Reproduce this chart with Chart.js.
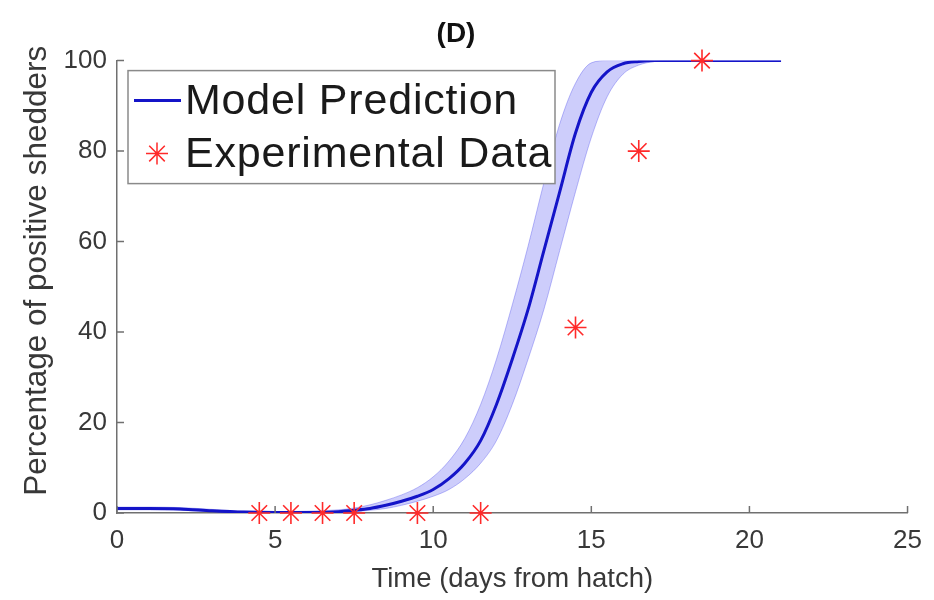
<!DOCTYPE html>
<html>
<head>
<meta charset="utf-8">
<title>(D)</title>
<script src="https://cdn.jsdelivr.net/npm/chart.js@4.4.1/dist/chart.umd.min.js"></script>
<style>
  html, body { margin: 0; padding: 0; background: #fff; }
  #wrap { width: 934px; height: 600px; }
</style>
</head>
<body>
<div id="wrap"><canvas id="shedChart" width="934" height="600"></canvas></div>
<script>
// time grid (days from hatch) for the model curves
const modelTime = [0, 1, 2, 3, 4, 5, 6, 7, 7.5, 8, 8.5, 9, 9.5, 10, 10.5, 11, 11.5, 12, 12.5, 13, 13.5, 14, 14.5, 15, 15.5, 16, 16.5, 17, 17.5, 18, 19, 20, 21];
// model prediction (%) and its envelope
const modelMean  = [1.0, 1.0, 0.9, 0.5, 0.2, 0.1, 0.1, 0.3, 0.6, 1.0, 1.7, 2.6, 3.7, 5.2, 7.6, 11, 16, 24, 34, 45, 58, 71, 84, 93, 97.5, 99.3, 99.8, 100, 100, 100, 100, 100, 100];
const modelUpper = [1.3, 1.3, 1.2, 0.8, 0.4, 0.3, 0.4, 0.7, 1.1, 1.8, 2.8, 4.0, 5.6, 8.0, 11.5, 16.5, 24, 34, 46, 59, 73, 86, 95, 99.5, 100, 100, 100, 100, 100, 100, 100, 100, 100];
const modelLower = [0.7, 0.7, 0.6, 0.3, 0.05, 0, 0, 0.1, 0.3, 0.6, 1.0, 1.7, 2.6, 3.7, 5.2, 7.6, 11, 16, 24, 34, 45, 58, 71, 83, 92, 97, 99, 99.8, 100, 100, 100, 100, 100];

// experimental observations
const expTime = [4.5, 5.5, 6.5, 7.5, 9.5, 11.5, 14.5, 16.5, 18.5];
const expPct  = [0, 0, 0, 0, 0, 0, 41, 80, 100];

const xTicks = [0, 5, 10, 15, 20, 25];
const yTicks = [0, 20, 40, 60, 80, 100];

const seriesNames = ['Model Prediction', 'Experimental Data'];
const yAxisTitle = 'Percentage of positive shedders';

const FONT = '"Liberation Sans", Arial, Helvetica, sans-serif';
const AXIS_COLOR = '#707070';
const TEXT_COLOR = '#383838';
const LINE_BLUE = '#1414c8';
const STAR_RED = '#ff2a2a';

function toXY(xs, ys) {
    return xs.map((x, i) => ({ x: x, y: ys[i] }));
}

// MATLAB-style inward tick marks
const inwardTicks = {
    id: 'inwardTicks',
    afterDraw(chart) {
        const ctx = chart.ctx;
        const a = chart.chartArea;
        const xs = chart.scales.x;
        const ys = chart.scales.y;
        ctx.save();
        ctx.strokeStyle = AXIS_COLOR;
        ctx.lineWidth = 1.5;
        ctx.beginPath();
        xTicks.forEach(v => {
            const px = xs.getPixelForValue(v);
            ctx.moveTo(px, a.bottom);
            ctx.lineTo(px, a.bottom - 7);
        });
        yTicks.forEach(v => {
            const py = ys.getPixelForValue(v);
            ctx.moveTo(a.left, py);
            ctx.lineTo(a.left + 7, py);
        });
        ctx.stroke();
        ctx.restore();
    }
};

// rotated y label, set a little above the axis midpoint
const yLabel = {
    id: 'yLabel',
    afterDraw(chart) {
        const ctx = chart.ctx;
        const a = chart.chartArea;
        ctx.save();
        ctx.translate(37, (a.top + a.bottom) / 2 - 16);
        ctx.rotate(-Math.PI / 2);
        ctx.fillStyle = TEXT_COLOR;
        ctx.font = '31.5px ' + FONT;
        ctx.textAlign = 'center';
        ctx.textBaseline = 'middle';
        ctx.fillText(yAxisTitle, 0, 0);
        ctx.restore();
    }
};

// boxed legend inside the plot area, top left
const boxLegend = {
    id: 'boxLegend',
    afterDraw(chart) {
        const ctx = chart.ctx;
        const a = chart.chartArea;
        const bx = a.left + 11, by = a.top + 10, bw = 427, bh = 113;
        ctx.save();
        ctx.fillStyle = '#fff';
        ctx.fillRect(bx, by, bw, bh);
        ctx.strokeStyle = '#8a8a8a';
        ctx.lineWidth = 1.5;
        ctx.strokeRect(bx, by, bw, bh);

        const row1 = by + 30, row2 = by + 83;
        ctx.strokeStyle = LINE_BLUE;
        ctx.lineWidth = 3;
        ctx.beginPath();
        ctx.moveTo(bx + 6, row1);
        ctx.lineTo(bx + 53, row1);
        ctx.stroke();

        // star marker, same style as the data points
        const cx = bx + 29;
        const r = 11;
        ctx.strokeStyle = STAR_RED;
        ctx.lineWidth = 1.5;
        ctx.beginPath();
        for (let k = 0; k < 4; k++) {
            const ang = k * Math.PI / 4;
            ctx.moveTo(cx - r * Math.cos(ang), row2 - r * Math.sin(ang));
            ctx.lineTo(cx + r * Math.cos(ang), row2 + r * Math.sin(ang));
        }
        ctx.stroke();

        ctx.fillStyle = '#1a1a1a';
        ctx.font = '43px ' + FONT;
        if ('letterSpacing' in ctx) ctx.letterSpacing = '0.8px';
        ctx.textBaseline = 'middle';
        ctx.textAlign = 'left';
        ctx.fillText(seriesNames[0], bx + 57, row1 + 2);
        ctx.fillText(seriesNames[1], bx + 57, row2 + 2);
        ctx.restore();
    }
};

const ctx = document.getElementById('shedChart').getContext('2d');
new Chart(ctx, {
    type: 'line',
    data: {
        datasets: [
            {
                label: seriesNames[1],
                type: 'scatter',
                data: toXY(expTime, expPct),
                pointStyle: 'star',
                pointRadius: 11,
                pointBorderWidth: 1.6,
                borderColor: STAR_RED,
                backgroundColor: STAR_RED,
                showLine: false,
                clip: false
            },
            {
                label: seriesNames[0],
                data: toXY(modelTime, modelMean),
                borderColor: LINE_BLUE,
                borderWidth: 3,
                pointRadius: 0,
                cubicInterpolationMode: 'monotone',
                fill: false
            },
            {
                label: 'upper',
                data: toXY(modelTime, modelUpper),
                borderColor: 'rgba(70,70,235,0.35)',
                borderWidth: 1,
                pointRadius: 0,
                cubicInterpolationMode: 'monotone',
                fill: false
            },
            {
                label: 'lower',
                data: toXY(modelTime, modelLower),
                borderColor: 'rgba(70,70,235,0.35)',
                borderWidth: 1,
                pointRadius: 0,
                cubicInterpolationMode: 'monotone',
                backgroundColor: 'rgba(70,70,240,0.27)',
                fill: 2
            }
        ]
    },
    options: {
        responsive: false,
        animation: false,
        layout: { padding: { left: 0, right: 22, top: 0, bottom: 0 } },
        plugins: {
            legend: { display: false },
            tooltip: { enabled: false },
            title: {
                display: true,
                text: '(D)',
                color: '#111',
                font: { family: FONT, size: 28, weight: 'bold' },
                padding: { top: 17, bottom: 10 }
            }
        },
        scales: {
            x: {
                type: 'linear',
                min: 0,
                max: 25,
                afterFit: s => { s.height = 87; },
                afterBuildTicks: s => { s.ticks = xTicks.map(v => ({ value: v })); },
                ticks: { color: TEXT_COLOR, font: { family: FONT, size: 26 }, padding: 12, maxRotation: 0 },
                grid: { display: false, drawTicks: false },
                border: { display: true, color: AXIS_COLOR, width: 1.5 },
                title: {
                    display: true,
                    text: 'Time (days from hatch)',
                    color: TEXT_COLOR,
                    font: { family: FONT, size: 27.5 },
                    padding: { top: 0, bottom: 4 }
                }
            },
            y: {
                min: 0,
                max: 100,
                afterFit: s => { s.width = 117; },
                afterBuildTicks: s => { s.ticks = yTicks.map(v => ({ value: v })); },
                ticks: { color: TEXT_COLOR, font: { family: FONT, size: 26 }, padding: 10 },
                grid: { display: false, drawTicks: false },
                border: { display: true, color: AXIS_COLOR, width: 1.5 }
            }
        }
    },
    plugins: [inwardTicks, yLabel, boxLegend]
});
</script>
</body>
</html>
